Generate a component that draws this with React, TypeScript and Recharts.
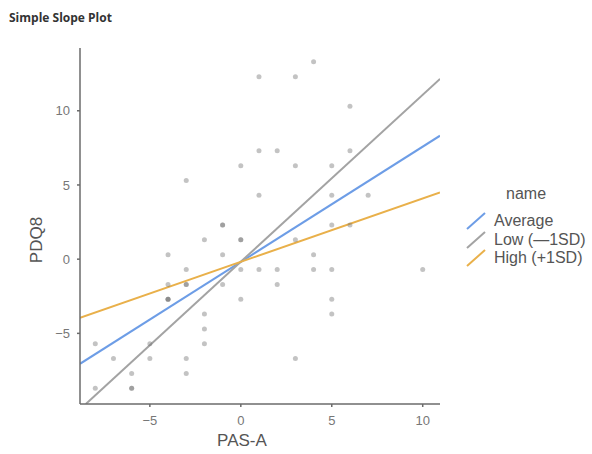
import { ComposedChart, Scatter, Line, XAxis, YAxis } from 'recharts';

// raw observations (PAS-A, PDQ8), overlapping points repeated
const pasA = [
  1, 3, 4, 6, 1, 2, 6, 0, 3, 5, -3, 1, 5, 7, 5, 6, -1, -1, 0, 0, 3, -2, -4, -1, 4,
  -3, 0, 1, 2, 4, 5, 10, -4, -3, -3, -1, 2, -4, -4, -4, 0, 5, -2, 5, -2, -2, -8,
  -5, -7, -5, -3, 3, -6, -3, -8, -6, -6,
];
const pdq8 = [
  12.3, 12.3, 13.3, 10.3, 7.3, 7.3, 7.3, 6.3, 6.3, 6.3, 5.3, 4.3, 4.3, 4.3, 2.3, 2.3,
  2.3, 2.3, 1.3, 1.3, 1.3, 1.3, 0.3, 0.3, 0.3, -0.7, -0.7, -0.7, -0.7, -0.7, -0.7,
  -0.7, -1.7, -1.7, -1.7, -1.7, -1.7, -2.7, -2.7, -2.7, -2.7, -2.7, -3.7, -3.7, -4.7,
  -5.7, -5.7, -5.7, -6.7, -6.7, -6.7, -6.7, -7.7, -7.7, -8.7, -8.7, -8.7,
];

// simple slope end points
const averageX = [-8.84, 10.95];
const averageY = [-7.05, 8.32];
const lowX = [-8.52, 10.95];
const lowY = [-9.76, 12.15];
const highX = [-8.84, 10.95];
const highY = [-3.95, 4.49];

const seriesNames = ['Average', 'Low (\u20141SD)', 'High (+1SD)'];
const COLORS = ['#6d9de6', '#a3a3a3', '#e9b04a'];

const xTicks = [-5, 0, 5, 10];
const yTicks = [-5, 0, 5, 10];

const toPoints = (xs: number[], ys: number[]) => xs.map((x, i) => ({ x, y: ys[i] }));

const points = toPoints(pasA, pdq8);
const lines = [toPoints(averageX, averageY), toPoints(lowX, lowY), toPoints(highX, highY)];

const fmt = (v: number) => (v < 0 ? `\u2212${Math.abs(v)}` : `${v}`);

const tickStyle = { fontSize: 13, fill: '#777', fontFamily: 'Liberation Sans, Arial, sans-serif' };

export default function App() {
  return (
    <div
      style={{
        position: 'absolute',
        left: 0,
        top: 0,
        width: 592,
        height: 454,
        background: '#fff',
        fontFamily: 'Liberation Sans, Arial, sans-serif',
      }}
    >
      <div
        style={{
          position: 'absolute',
          left: 9,
          top: 9,
          fontFamily: 'Open Sans, sans-serif',
          fontWeight: 700,
          fontSize: 12,
          color: '#333',
        }}
      >
        Simple Slope Plot
      </div>
      <ComposedChart
        width={592}
        height={454}
        margin={{ top: 48, right: 152, bottom: 20, left: 20 }}
      >
        <XAxis
          type="number"
          dataKey="x"
          domain={[-8.84, 10.95]}
          ticks={xTicks}
          tickFormatter={fmt}
          allowDataOverflow
          height={30}
          tickSize={3}
          tickMargin={9}
          stroke="#6b6b6b"
          strokeWidth={1.5}
          tick={tickStyle}
        />
        <YAxis
          type="number"
          dataKey="y"
          domain={[-9.76, 14.23]}
          ticks={yTicks}
          tickFormatter={fmt}
          allowDataOverflow
          width={60}
          tickSize={3}
          tickMargin={7}
          stroke="#6b6b6b"
          strokeWidth={1.5}
          tick={tickStyle}
        />
        <Scatter
          data={points}
          isAnimationActive={false}
          shape={(p: any) => (
            <circle cx={p.cx} cy={p.cy} r={2.5} fill="#707070" fillOpacity={0.42} />
          )}
        />
        {lines.map((d, i) => (
          <Line
            key={seriesNames[i]}
            data={d}
            dataKey="y"
            type="linear"
            stroke={COLORS[i]}
            strokeWidth={2}
            dot={false}
            activeDot={false}
            isAnimationActive={false}
          />
        ))}
      </ComposedChart>
      <div
        style={{
          position: 'absolute',
          left: 37,
          top: 240,
          transform: 'translate(-50%, -50%) rotate(-90deg)',
          fontSize: 17,
          color: '#555',
          whiteSpace: 'nowrap',
        }}
      >
        PDQ8
      </div>
      <div
        style={{
          position: 'absolute',
          left: 242,
          top: 441,
          transform: 'translate(-50%, -50%)',
          fontSize: 17,
          color: '#555',
          whiteSpace: 'nowrap',
        }}
      >
        PAS-A
      </div>
      <div style={{ position: 'absolute', left: 464, top: 184, fontSize: 16, color: '#555' }}>
        <div style={{ marginLeft: 42, lineHeight: '20px', marginBottom: 8 }}>name</div>
        {seriesNames.map((n, i) => (
          <div key={n} style={{ display: 'flex', alignItems: 'center', height: 18.5 }}>
            <svg width={26} height={18} style={{ marginRight: 4 }}>
              <line x1={3} y1={17} x2={21} y2={1} stroke={COLORS[i]} strokeWidth={2} />
            </svg>
            <span style={{ lineHeight: '18px' }}>{n}</span>
          </div>
        ))}
      </div>
    </div>
  );
}
